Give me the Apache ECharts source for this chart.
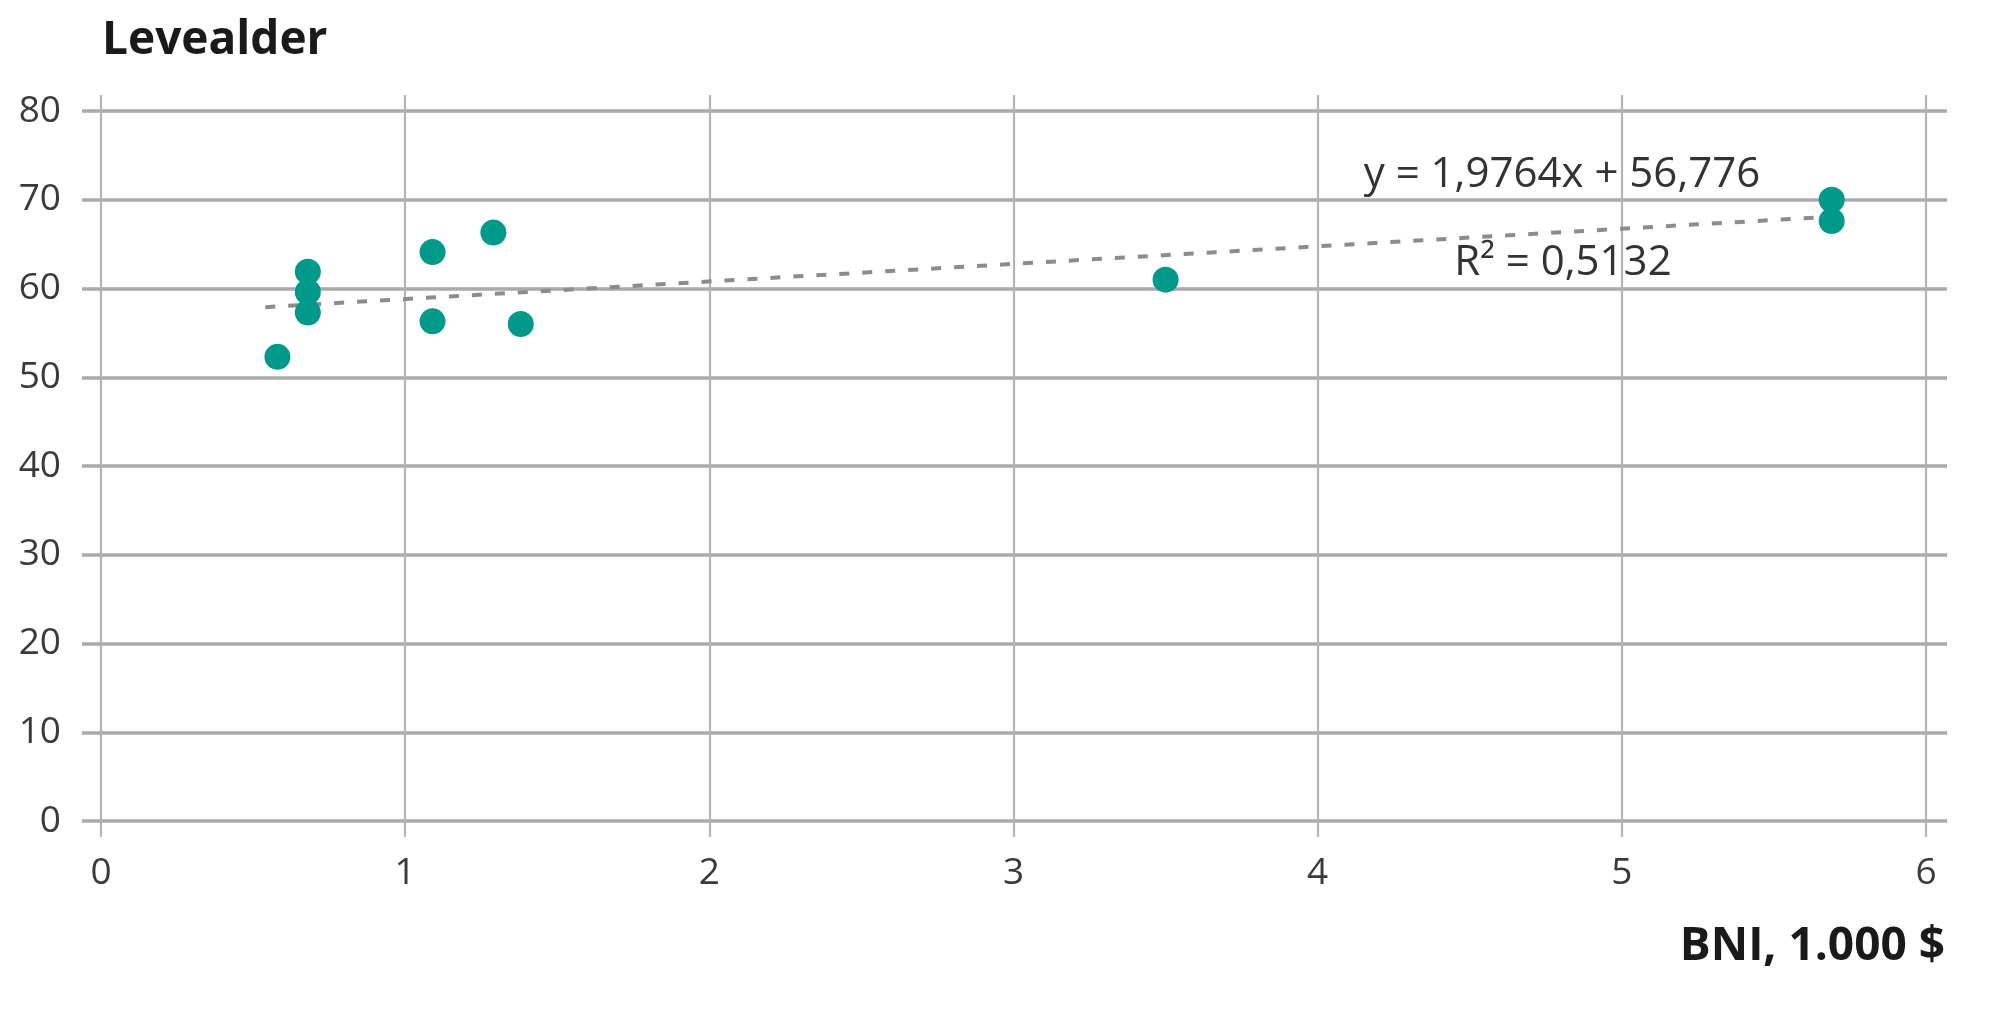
<!DOCTYPE html>
<html>
<head>
<meta charset="utf-8">
<title>Levealder og BNI</title>
<script src="https://cdn.jsdelivr.net/npm/echarts@6/dist/echarts.min.js"></script>
<style>
html, body { margin: 0; padding: 0; background: #fff; }
#chart { width: 2000px; height: 1025px; }
</style>
</head>
<body>
<div id="chart"></div>
<script>
// data
var bni = [0.58, 0.68, 0.68, 0.68, 1.09, 1.09, 1.29, 1.38, 3.5, 5.69, 5.69];
var levealder = [52.3, 61.9, 59.6, 57.3, 64.1, 56.3, 66.3, 56.0, 61.0, 70.0, 67.6];
// trend line ends (dotted)
var trendX = [0.54, 5.69];
var trendY = [57.9, 68.1];
var equationText = 'y = 1,9764x + 56,776';
var r2Text = 'R\u00b2 = 0,5132';
var yTitle = 'Levealder';
var xTitle = 'BNI, 1.000 $';

var chart = echarts.init(document.getElementById('chart'));

var points = [];
for (var i = 0; i < bni.length; i++) {
	points.push([bni[i], levealder[i]]);
}
var trend = [];
for (var j = 0; j < trendX.length; j++) {
	trend.push([trendX[j], trendY[j]]);
}

var font = '"Open Sans", "Noto Sans", sans-serif';
var hLine = { color: '#aaaaaa', width: 3.5 };
var vLine = { color: '#b4b4b4', width: 2.2 };

var option = {
	backgroundColor: '#ffffff',
	animation: false,
	title: [
		{
			text: yTitle,
			left: 97,
			top: 13,
			textStyle: { fontFamily: font, fontSize: 46, fontWeight: 'bold', color: '#1a1a1a' }
		},
		{
			text: xTitle,
			right: 50,
			top: 919,
			textStyle: { fontFamily: font, fontSize: 46, fontWeight: 'bold', color: '#1a1a1a' }
		}
	],
	grid: { left: 101, right: 74, top: 111, bottom: 204 },
	xAxis: [
		{
			type: 'value',
			min: 0, max: 6, interval: 1,
			axisLine: { show: false, onZero: false },
			axisTick: { show: true, length: 16, lineStyle: vLine },
			axisLabel: { margin: 34, fontFamily: font, fontSize: 37, color: '#3a3a3a' },
			splitLine: { show: true, lineStyle: vLine }
		},
		{
			// only used for the small overhang of the vertical lines at the top
			type: 'value',
			position: 'top',
			min: 0, max: 6, interval: 1,
			axisLine: { show: false, onZero: false },
			axisTick: { show: true, length: 16, lineStyle: vLine },
			axisLabel: { show: false },
			splitLine: { show: false }
		}
	],
	yAxis: [
		{
			type: 'value',
			min: 0, max: 80, interval: 10,
			axisLine: { show: false, onZero: false },
			axisTick: { show: true, length: 19, lineStyle: hLine },
			axisLabel: { margin: 40, fontFamily: font, fontSize: 37, color: '#3a3a3a' },
			splitLine: { show: true, lineStyle: hLine }
		},
		{
			// overhang of the horizontal lines on the right
			type: 'value',
			position: 'right',
			min: 0, max: 80, interval: 10,
			axisLine: { show: false, onZero: false },
			axisTick: { show: true, length: 21, lineStyle: hLine },
			axisLabel: { show: false },
			splitLine: { show: false }
		}
	],
	series: [
		{
			name: 'Trend',
			type: 'line',
			data: trend,
			symbol: 'none',
			lineStyle: { color: '#8c8c8c', width: 4, type: [10, 13] },
			z: 3
		},
		{
			name: 'Lande',
			type: 'scatter',
			data: points,
			symbolSize: 26,
			itemStyle: { color: '#00998a', opacity: 1 },
			z: 4
		},
		{
			// empty series on the second pair of axes
			name: 'tom',
			type: 'scatter',
			xAxisIndex: 1,
			yAxisIndex: 1,
			data: [],
			silent: true
		}
	],
	graphic: [
		{
			type: 'text',
			x: 1562, y: 175,
			style: {
				text: equationText,
				font: '42px ' + font,
				fill: '#333333',
				textAlign: 'center',
				textVerticalAlign: 'middle'
			}
		},
		{
			type: 'text',
			x: 1563, y: 263,
			style: {
				text: r2Text,
				font: '42px ' + font,
				fill: '#333333',
				textAlign: 'center',
				textVerticalAlign: 'middle'
			}
		}
	]
};

chart.setOption(option);
</script>
</body>
</html>
